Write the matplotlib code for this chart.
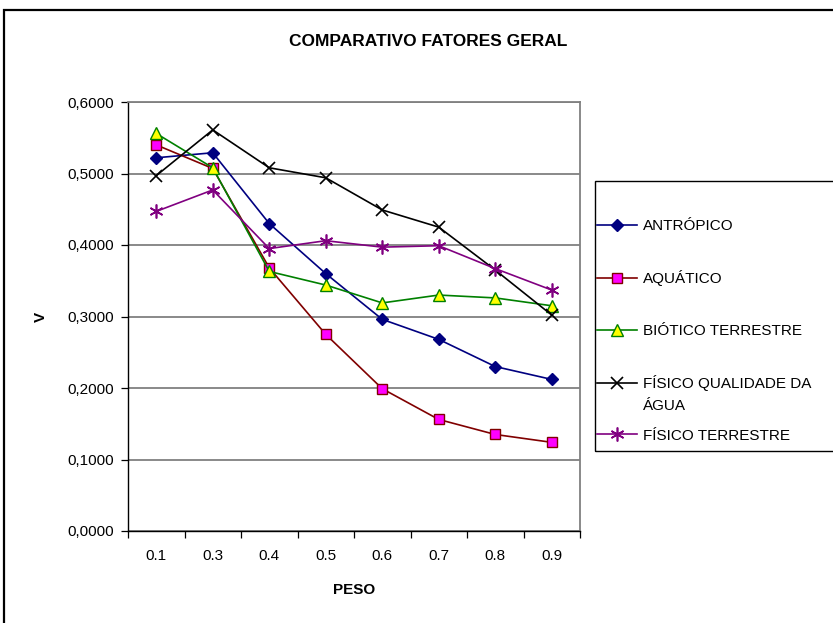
import matplotlib
matplotlib.use("Agg")
import matplotlib.pyplot as plt
from matplotlib.patches import Rectangle
from matplotlib.ticker import FixedLocator, FuncFormatter

plt.rcParams['font.family'] = ['Liberation Sans', 'DejaVu Sans']

# dados
pesos = ['0.1', '0.3', '0.4', '0.5', '0.6', '0.7', '0.8', '0.9']
antropico = [0.522, 0.529, 0.430, 0.360, 0.296, 0.268, 0.230, 0.212]
aquatico = [0.540, 0.507, 0.368, 0.275, 0.199, 0.156, 0.135, 0.124]
biotico = [0.556, 0.508, 0.363, 0.344, 0.319, 0.330, 0.326, 0.315]
fisico_agua = [0.497, 0.561, 0.508, 0.494, 0.449, 0.425, 0.365, 0.302]
fisico_terrestre = [0.447, 0.477, 0.395, 0.406, 0.397, 0.399, 0.367, 0.337]
nomes = ['ANTRÓPICO', 'AQUÁTICO', 'BIÓTICO TERRESTRE',
         'FÍSICO QUALIDADE DA', 'FÍSICO TERRESTRE']
resto_nome4 = 'ÁGUA'  # segunda linha do rotulo de FÍSICO QUALIDADE DA ÁGUA
y_ticks = [0.0, 0.1, 0.2, 0.3, 0.4, 0.5, 0.6]

W, H = 833, 623
fig = plt.figure(figsize=(W / 100, H / 100), dpi=100)

# moldura externa do grafico (continua fora da imagem)
fig.patches.append(Rectangle((4 / W, -0.2), 1, 1.2 - 10 / H, transform=fig.transFigure,
                             fill=False, edgecolor='black', lw=1.6))

ax = fig.add_axes([128 / W, 1 - 531 / H, 452 / W, 429 / H])
x = list(range(len(pesos)))

ax.plot(x, antropico, color='#000080', lw=1.2, marker='D', ms=6,
        mfc='#000080', mec='#000080', label=nomes[0])
ax.plot(x, aquatico, color='#800000', lw=1.2, marker='s', ms=7,
        mfc='#FF00FF', mec='#800000', label=nomes[1])
ax.plot(x, biotico, color='#008000', lw=1.2, marker='^', ms=8,
        mfc='#FFFF00', mec='#008000', label=nomes[2])
ax.plot(x, fisico_agua, color='black', lw=1.2, marker='x', ms=9,
        mew=1.2, label=nomes[3])
ax.plot(x, fisico_terrestre, color='#800080', lw=1.2, marker=(6, 2, 0), ms=10,
        mew=1.2, mec='#800080', label=nomes[4])

ax.set_xlim(-0.5, len(pesos) - 0.5)
ax.set_ylim(0, 0.6)
ax.yaxis.set_major_locator(FixedLocator(y_ticks))
ax.yaxis.set_major_formatter(FuncFormatter(lambda v, p: f'{v:.4f}'.replace('.', ',')))
ax.grid(axis='y', color='#808080', lw=1.3)
ax.set_axisbelow(True)

ax.set_xticks(x)
ax.set_xticklabels(pesos)
ax.set_xticks([i - 0.5 for i in range(len(pesos) + 1)], minor=True)
ax.tick_params(axis='x', which='major', length=0, pad=13, labelsize=11)
ax.tick_params(axis='x', which='minor', length=5, direction='out', width=0.9)
ax.tick_params(axis='y', length=5, width=0.9, pad=5, labelsize=11)

for s in ['top', 'right']:
    ax.spines[s].set_color('#808080')
    ax.spines[s].set_linewidth(1.3)
for s in ['left', 'bottom']:
    ax.spines[s].set_color('black')
    ax.spines[s].set_linewidth(1.0)

ax.set_xlabel('PESO', fontweight='bold', fontsize=11, labelpad=14)
ax.set_ylabel('V', fontweight='bold', fontsize=11, labelpad=14)

fig.text(428 / W, 1 - 42 / H, 'COMPARATIVO FATORES GERAL', ha='center', va='center',
         fontweight='bold', fontsize=12.5)

# legenda
fig.patches.append(Rectangle((595 / W, 1 - 451 / H), 0.5, 270 / H, transform=fig.transFigure,
                             fill=False, edgecolor='black', lw=1.0))
leg = fig.legend(*ax.get_legend_handles_labels(), loc='upper left',
                 bbox_to_anchor=(597 / W, 1 - 219 / H), bbox_transform=fig.transFigure,
                 frameon=False, fontsize=11, handlelength=2.6, handletextpad=0.4,
                 labelspacing=2.45, borderpad=0, borderaxespad=0)

# segunda linha do quarto rotulo, logo abaixo da primeira
fig.canvas.draw()
bb = leg.get_texts()[3].get_window_extent()
fig.text(bb.x0 / W, (bb.y0 - 22) / H, resto_nome4, fontsize=11, ha='left', va='bottom')

fig.savefig('out.png', dpi=100)
